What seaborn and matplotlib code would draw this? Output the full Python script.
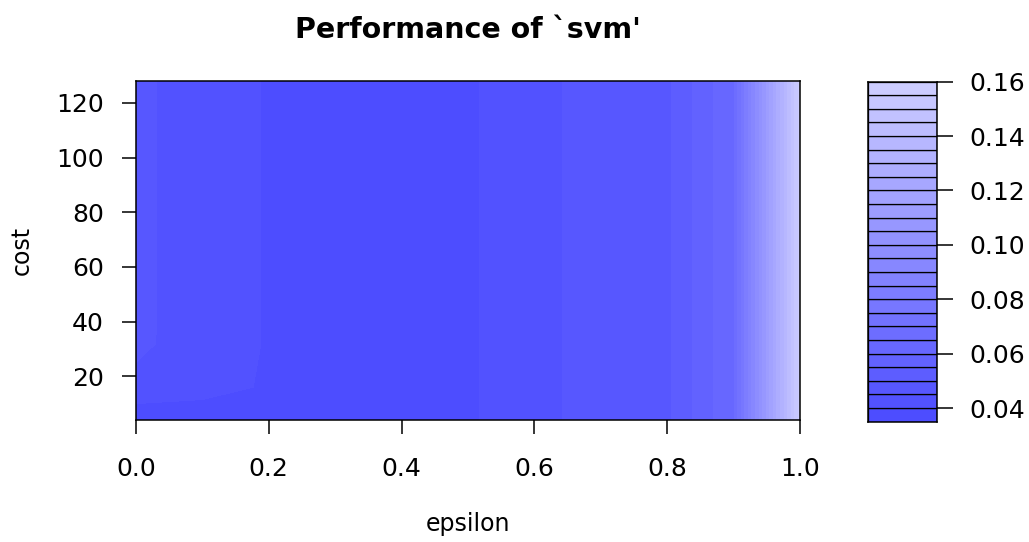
import numpy as np
import matplotlib
matplotlib.use("Agg")
import matplotlib.pyplot as plt
import seaborn as sns

# ---- data ----
epsilon = [0.0, 0.1, 0.2, 0.3, 0.4, 0.5, 0.6, 0.7, 0.8, 0.9, 1.0]
cost = [4, 8, 16, 32, 64, 128]
perf_cost4 = [0.0390, 0.0391, 0.0385, 0.0378, 0.0376, 0.0393, 0.0435, 0.0470, 0.0492, 0.0650, 0.1580]
perf_cost8 = [0.0390, 0.0390, 0.0388, 0.0378, 0.0376, 0.0393, 0.0435, 0.0470, 0.0492, 0.0650, 0.1580]
perf_cost16 = [0.0430, 0.0413, 0.0396, 0.0380, 0.0377, 0.0393, 0.0435, 0.0470, 0.0492, 0.0650, 0.1580]
perf_cost32 = [0.0465, 0.0415, 0.0398, 0.0380, 0.0377, 0.0393, 0.0435, 0.0470, 0.0492, 0.0650, 0.1580]
perf_cost64 = [0.0466, 0.0415, 0.0398, 0.0380, 0.0377, 0.0393, 0.0435, 0.0470, 0.0492, 0.0650, 0.1580]
perf_cost128 = [0.0466, 0.0415, 0.0398, 0.0380, 0.0377, 0.0393, 0.0435, 0.0470, 0.0492, 0.0650, 0.1580]
level_min, level_max, level_step = 0.035, 0.16, 0.005
key_ticks = [0.04, 0.06, 0.08, 0.10, 0.12, 0.14, 0.16]
x_ticks = [0.0, 0.2, 0.4, 0.6, 0.8, 1.0]
y_ticks = [20, 40, 60, 80, 100, 120]

sns.set_theme(style="white")
plt.rcParams["font.family"] = ["DejaVu Sans"]
plt.rcParams["text.color"] = "black"
plt.rcParams["axes.labelcolor"] = "black"
plt.rcParams["xtick.color"] = "black"
plt.rcParams["ytick.color"] = "black"

Z = np.array([perf_cost4, perf_cost8, perf_cost16, perf_cost32, perf_cost64, perf_cost128])
levels = np.round(np.arange(level_min, level_max + level_step / 2, level_step), 4)
n_bands = len(levels) - 1
colors = sns.blend_palette(["#4D4DFF", "#CCCCFF"], n_colors=n_bands)

W, H = 1029, 542
fig = plt.figure(figsize=(W / 100, H / 100), dpi=100)
fig.patch.set_facecolor("white")

# main panel
ax = fig.add_axes([136 / W, 1 - 420 / H, (800 - 136) / W, (420 - 81) / H])
ax.contourf(epsilon, cost, Z, levels=levels, colors=colors, antialiased=False)
ax.set_xlim(0, 1)
ax.set_ylim(4, 128)
ax.set_xticks(x_ticks)
ax.set_xticklabels([f"{v:.1f}" for v in x_ticks])
ax.set_yticks(y_ticks)
ax.set_yticklabels([str(v) for v in y_ticks])
ax.tick_params(axis="x", direction="out", length=10, width=1.1, colors="black",
               labelsize=18, pad=17, bottom=True)
ax.tick_params(axis="y", direction="out", length=10, width=1.1, colors="black",
               labelsize=18, pad=13, left=True)
for s in ax.spines.values():
    s.set_color("black")
    s.set_linewidth(1.1)
ax.set_xlabel("epsilon", fontsize=17, color="black")
ax.set_ylabel("cost", fontsize=17, color="black")
ax.xaxis.set_label_coords(0.5, (420 - 524) / 339)
ax.xaxis.label.set_va("center")
ax.yaxis.set_label_coords((22 - 136) / 664, 0.5)
ax.yaxis.label.set_va("center")
ax.set_title("Performance of `svm'", fontsize=20.5, fontweight="bold", pad=31, color="black")

# key
cax = fig.add_axes([868 / W, 1 - 421.6 / H, 69 / W, (421.6 - 81.7) / H])
cax.bar(x=0.5, height=np.diff(levels), bottom=levels[:-1], width=1.0,
        color=colors, edgecolor="black", linewidth=0.9)
cax.set_xlim(0, 1)
cax.set_ylim(level_min, level_max)
cax.set_xticks([])
cax.yaxis.tick_right()
cax.set_yticks(key_ticks)
cax.set_yticklabels([f"{v:.2f}" for v in key_ticks])
cax.tick_params(axis="y", direction="out", length=11.5, width=1.1, colors="black",
                labelsize=18, pad=12, right=True, left=False)
for s in cax.spines.values():
    s.set_color("black")
    s.set_linewidth(1.1)

fig.savefig("out.png", dpi=100, facecolor="white")
